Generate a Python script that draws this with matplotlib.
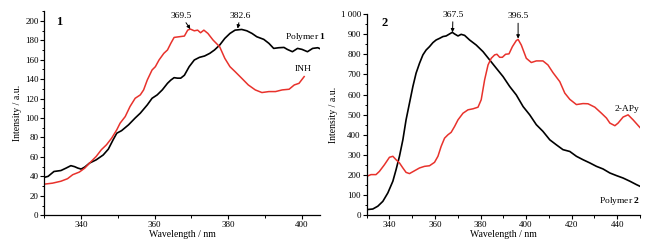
import matplotlib
matplotlib.use("Agg")
import matplotlib.pyplot as plt
from matplotlib.ticker import MultipleLocator

plt.rcParams['font.family'] = ['Liberation Serif', 'DejaVu Serif']
plt.rcParams['mathtext.fontset'] = 'custom'
plt.rcParams['mathtext.rm'] = 'Liberation Serif'
plt.rcParams['mathtext.bf'] = 'Liberation Serif:bold'

# ---- Panel 1 data ----
p1_x = [330, 331, 332.6, 334.5, 335.9, 337.2, 338.2, 339.1, 340, 341, 342.3, 344.1, 346, 347.4,
        348.7, 349.7, 351, 352.9, 354.7, 356.1, 358, 359.3, 360.7, 362.1, 363.5, 364.4, 365.3,
        366.2, 367.1, 368.1, 369.4, 370.8, 372.2, 373.6, 375, 376.3, 377.7, 379.1, 380.5, 381.9,
        383.7, 385.1, 386.5, 387.8, 389.7, 391.1, 392.4, 393.8, 395.2, 396.1, 397.5, 398.9,
        400.1, 401.6, 403, 404.4, 405.8]
p1_y = [39, 40, 45, 46, 48.5, 51, 50, 48.5, 47.5, 49.6, 53.7, 57, 62, 68,
        77.6, 84.4, 87, 93, 100, 105, 113.5, 120.3, 123.8, 129, 135.7, 139, 141.5,
        141, 141, 144, 152.8, 159.7, 162.4, 163.8, 166.5, 170, 175, 181.9, 187, 190.4,
        191.1, 189.7, 187, 183.6, 180.9, 176.8, 171.6, 172.3, 172.6, 170.6, 168.2, 171.6,
        170.6, 168.2, 171.6, 172.3, 170]

inh_x = [330, 332.2, 334.5, 336.3, 337.7, 339.5, 341, 342.3, 344.1, 345.5, 346.9, 348.3, 349.7,
         350.6, 352, 353.3, 354.7, 356.1, 357, 358, 359.3, 360.2, 361.2, 362.5, 363.5, 364.4,
         365.3, 366.7, 368.1, 369, 369.7, 370.8, 371.7, 372.5, 373.4, 374.5, 375.9, 377.7,
         379.1, 380.5, 381.9, 383.7, 385.5, 387.4, 389.2, 391.1, 392.9, 394.7, 396.6, 398,
         399.3, 400.7]
inh_y = [32, 33, 35, 37.6, 41.7, 44.4, 48.5, 53.7, 60.5, 67.4, 72.5, 79.3, 87.9,
         94.7, 101.5, 111.8, 120.3, 123.8, 128.9, 139.1, 149.4, 152.8, 159.7, 166.5, 170, 176.8,
         182.9, 183.6, 184.3, 190.4, 191.5, 189.7, 190.4, 187.7, 190.4, 187, 180.2, 173.3,
         161.4, 152.8, 147.7, 140.9, 134, 128.9, 126.2, 127.2, 127.2, 128.9, 129.6, 134,
         135.7, 142.6]

# ---- Panel 2 data ----
p2_x = [330, 332.7, 334.9, 337.1, 339.3, 341.5, 342.9, 344.4, 345.9, 347.3, 348.8, 350.3, 351.7,
        353.2, 354.7, 356.1, 357.6, 359.1, 360.5, 362, 363.5, 364.9, 366.4, 367.6, 368.6, 370.1,
        371.5, 373, 375.2, 378.1, 381.1, 384, 386.9, 389.9, 392.8, 395.7, 398.7, 401.6, 404.5,
        407.4, 410.4, 413.3, 416.2, 419.2, 422.1, 425, 428, 430.9, 433.8, 436.8, 439.7, 442.6,
        445.6, 448.5, 450]
p2_y = [28, 31, 45, 69, 111, 169, 226, 293, 375, 474, 557, 640, 706,
        755, 797, 821, 838, 858, 871, 879, 888, 891, 901, 909, 901, 891,
        899, 894, 871, 846, 813, 772, 731, 689, 640, 598, 540, 499, 450,
        417, 375, 350, 326, 317, 293, 276, 260, 243, 230, 210, 197, 185,
        169, 152, 144]

apy_x = [330, 331.9, 334.1, 335.6, 337.8, 340, 341.5, 342.9, 344.4, 345.9, 347.3, 348.8, 351,
         353.2, 355.4, 357.6, 359.8, 361.3, 362.7, 364.2, 365.7, 367.1, 368.6, 370.1, 372.3,
         374.5, 376.7, 378.9, 380.3, 381.8, 383.3, 384.7, 386.2, 387.2, 388.4, 389.6, 391,
         392.5, 394, 395.7, 396.5, 397.9, 400.1, 402.3, 404.5, 407.4, 409.6, 411.8, 414.8,
         417, 419.2, 422.1, 425, 427.2, 430.2, 433.1, 435.3, 436.8, 439, 440.4, 442.6, 444.8,
         447, 450]
apy_y = [193, 202, 202, 218, 251, 288, 293, 276, 260, 235, 213, 207, 221,
         235, 243, 246, 263, 293, 342, 383, 400, 412, 441, 474, 507,
         524, 529, 537, 574, 673, 747, 780, 797, 800, 785, 785, 800,
         802, 838, 868, 874, 846, 780, 759, 767, 767, 747, 709, 664,
         607, 576, 550, 555, 554, 537, 507, 483, 458, 445, 458, 488, 499,
         474, 436]

x1_ticks = [340, 360, 380, 400]
y1_ticks = [0, 20, 40, 60, 80, 100, 120, 140, 160, 180, 200]
x2_ticks = [340, 360, 380, 400, 420, 440]
y2_ticks = [0, 100, 200, 300, 400, 500, 600, 700, 800, 900, 1000]
y2_labels = ['0', '100', '200', '300', '400', '500', '600', '700', '800', '900', '1 000']

RED = '#e8322c'
fig = plt.figure(figsize=(6.53, 2.46), dpi=100)
fig.patch.set_facecolor('white')

ax1 = fig.add_axes([0.068, 0.125, 0.422, 0.830])
ax2 = fig.add_axes([0.5615, 0.125, 0.4185, 0.818])

def style(ax):
    for s in ['top', 'right']:
        ax.spines[s].set_visible(False)
    for s in ['left', 'bottom']:
        ax.spines[s].set_linewidth(0.9)
    ax.tick_params(which='major', direction='out', length=3.2, width=0.8, labelsize=6.5, pad=1)
    ax.tick_params(which='minor', direction='out', length=1.8, width=0.7)

ax1.plot(p1_x, p1_y, color='black', lw=1.2)
ax1.plot(inh_x, inh_y, color=RED, lw=1.1)
ax1.set_xlim(330, 405)
ax1.set_ylim(0, 210)
ax1.set_xticks(x1_ticks)
ax1.set_yticks(y1_ticks)
ax1.xaxis.set_minor_locator(MultipleLocator(10))
ax1.yaxis.set_minor_locator(MultipleLocator(10))
style(ax1)
ax1.set_xlabel('Wavelength / nm', fontsize=7, labelpad=1)
ax1.set_ylabel('Intensity / a.u.', fontsize=7, labelpad=2)
ax1.text(333.2, 199, '1', fontsize=9, fontweight='bold', va='center', ha='left')
ax1.text(395.6, 183, r'Polymer $\mathbf{1}$', fontsize=6.8, va='center', ha='left')
ax1.text(398, 150, 'INH', fontsize=6.8, va='center', ha='left')
arrow = dict(arrowstyle='-|>', color='black', lw=0.7, mutation_scale=5, shrinkA=0, shrinkB=0)
ax1.annotate('369.5', xy=(369.7, 191.5), xytext=(367.3, 205), fontsize=6.8,
             ha='center', va='center', arrowprops=arrow, annotation_clip=False)
ax1.annotate('382.6', xy=(382.6, 192), xytext=(383.3, 205), fontsize=6.8,
             ha='center', va='center', arrowprops=arrow, annotation_clip=False)

ax2.plot(p2_x, p2_y, color='black', lw=1.2)
ax2.plot(apy_x, apy_y, color=RED, lw=1.1)
ax2.set_xlim(330, 450)
ax2.set_ylim(0, 1000)
ax2.set_xticks(x2_ticks)
ax2.set_yticks(y2_ticks)
ax2.set_yticklabels(y2_labels)
ax2.xaxis.set_minor_locator(MultipleLocator(10))
ax2.yaxis.set_minor_locator(MultipleLocator(50))
style(ax2)
ax2.set_xlabel('Wavelength / nm', fontsize=7, labelpad=1)
ax2.set_ylabel('Intensity / a.u.', fontsize=7, labelpad=2)
ax2.text(336.5, 954, '2', fontsize=9, fontweight='bold', va='center', ha='left')
ax2.text(439, 529, '2-APy', fontsize=6.8, va='center', ha='left')
ax2.text(432.0, 69, r'Polymer $\mathbf{2}$', fontsize=6.8, va='center', ha='left')
ax2.annotate('367.5', xy=(367.7, 909), xytext=(367.9, 995), fontsize=6.8,
             ha='center', va='center', arrowprops=arrow, annotation_clip=False)
ax2.annotate('396.5', xy=(396.5, 878), xytext=(396.5, 988), fontsize=6.8,
             ha='center', va='center', arrowprops=arrow, annotation_clip=False)

fig.savefig('out.png', dpi=100, facecolor='white')
